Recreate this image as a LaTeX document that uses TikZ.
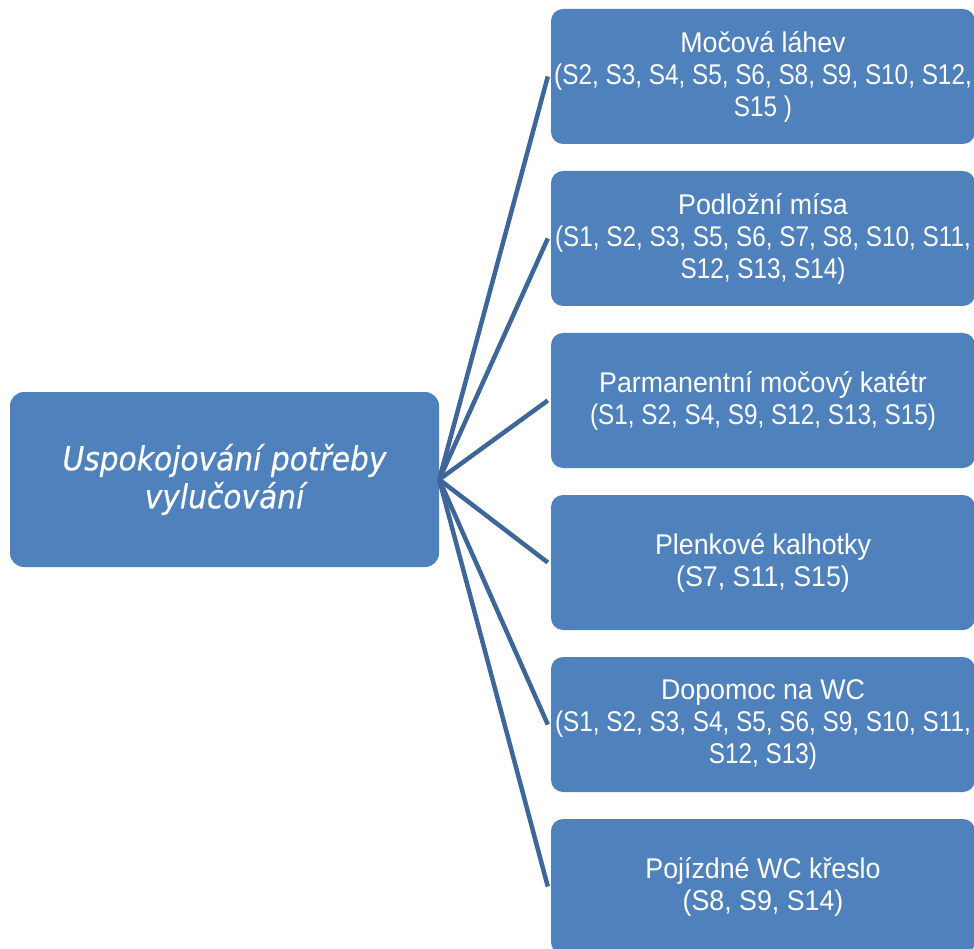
\documentclass[tikz,border=0pt]{standalone}
\usepackage{fontspec}
\setmainfont{Liberation Sans}
\newfontfamily\boxfont[FakeStretch=0.94]{Liberation Sans}
\newfontfamily\narrowfont[FakeStretch=0.853]{Liberation Sans}
\newfontfamily\hubfont[FakeStretch=0.9,FakeBold=0.4]{DejaVu Sans}
\definecolor{boxblue}{HTML}{4F81BD}
\definecolor{linkblue}{HTML}{3D6798}
\begin{document}
\begin{tikzpicture}[x=1pt,y=-1pt,
  hubbox/.style={rectangle, rounded corners=14pt, fill=boxblue, text=white,
    minimum width=429pt, minimum height=175pt, inner sep=0pt, align=center,
    font=\hubfont\itshape\fontsize{33}{38}\selectfont},
  itembox/.style={rectangle, rounded corners=12pt, fill=boxblue, text=white,
    minimum width=424pt, minimum height=135pt, inner sep=0pt, align=center,
    font=\boxfont\fontsize{28.5}{32}\selectfont},
  link/.style={draw=linkblue, line width=4.5pt}]
\useasboundingbox (0,0) rectangle (974,949);
\clip (0,0) rectangle (974,949);

% central topic
\node[hubbox] (hub) at (224.5,479.5) {Uspokojování potřeby\\vylučování};

% aids, top to bottom
\node[itembox] (b1) at (763,76.5)
  {Močová láhev\\{\narrowfont(S2, S3, S4, S5, S6, S8, S9, S10, S12,}\\{\narrowfont S15 )}};
\node[itembox] (b2) at (763,238.5)
  {Podložní mísa\\{\narrowfont(S1, S2, S3, S5, S6, S7, S8, S10, S11,}\\{\narrowfont S12, S13, S14)}};
\node[itembox] (b3) at (763,400.5)
  {Parmanentní močový katétr\\{\narrowfont(S1, S2, S4, S9, S12, S13, S15)}};
\node[itembox] (b4) at (763,562.5)
  {Plenkové kalhotky\\(S7, S11, S15)};
\node[itembox] (b5) at (763,724.5)
  {Dopomoc na WC\\{\narrowfont(S1, S2, S3, S4, S5, S6, S9, S10, S11,}\\{\narrowfont S12, S13)}};
\node[itembox] (b6) at (763,886.5)
  {Pojízdné WC křeslo\\(S8, S9, S14)};

% connectors fanning out from the central topic
\foreach \n in {b1,b2,b3,b4,b5,b6}
  \draw[link] (hub.east) -- ([xshift=-3pt]\n.west);
\end{tikzpicture}
\end{document}
